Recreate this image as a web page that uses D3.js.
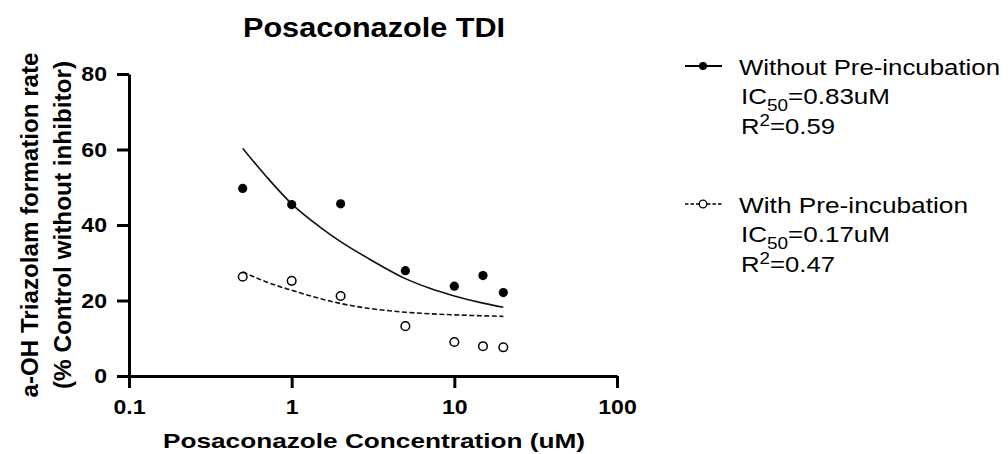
<html>
<head>
  <script src="https://d3js.org/d3.v7.min.js"></script>
  <style>
    body { margin: 0; background: #fff; }
    text { font-family: "Liberation Sans", Arial, Helvetica, sans-serif; fill: #000; }
  </style>
</head>
<body>
<svg id="chart" width="1008" height="454"></svg>
<script>

  // tick values
  const xTicks = [0.1, 1, 10, 100]
  const yTicks = [0, 20, 40, 60, 80]

  // measured points
  const conc = [0.5, 1, 2, 5, 10, 15, 20]
  const withoutPre = [49.7, 45.4, 45.6, 27.9, 23.8, 26.6, 22.1]
  const withPre = [26.3, 25.2, 21.2, 13.2, 9.0, 7.9, 7.6]

  // fitted curves
  const fitConc = [0.5, 0.7, 1, 1.5, 2, 3, 5, 7, 10, 15, 20]
  const fitWithout = [60.3, 52.8, 45.6, 39.4, 35.6, 31.0, 25.8, 23.3, 21.2, 19.3, 18.2]
  const fitWith = [27.6, 24.9, 22.7, 20.5, 19.2, 17.9, 16.9, 16.5, 16.2, 15.95, 15.8]

  const legendNames = ["Without Pre-incubation", "With Pre-incubation"]
  const legendIC50 = ["0.83", "0.17"]
  const legendR2 = ["0.59", "0.47"]

  const svg = d3.select("#chart")

  const x = d3.scaleLog().domain([0.1, 100]).range([129, 617])
  const y = d3.scaleLinear().domain([0, 80]).range([376, 74])

  // stretch text to the measured width
  function fit(sel, w) {
    sel.attr("textLength", w).attr("lengthAdjust", "spacingAndGlyphs")
  }
  function widen(sel, k) {
    sel.each(function() {
      const w = this.getComputedTextLength()
      d3.select(this).attr("textLength", w * k).attr("lengthAdjust", "spacingAndGlyphs")
    })
  }

  // axes
  const xAxis = svg.append("g")
    .attr("transform", "translate(0,376)")
    .call(d3.axisBottom(x).tickValues(xTicks).tickFormat(d => String(d))
      .tickSize(12).tickSizeOuter(0).tickPadding(11))
  const yAxis = svg.append("g")
    .attr("transform", "translate(129,0)")
    .call(d3.axisLeft(y).tickValues(yTicks).tickSize(12).tickSizeOuter(0).tickPadding(10))

  for (const ax of [xAxis, yAxis]) {
    ax.select(".domain").attr("stroke", "#000").attr("stroke-width", 3)
    ax.selectAll(".tick line").attr("stroke", "#000").attr("stroke-width", 3)
    ax.selectAll(".tick text")
      .style("font-family", "'Liberation Sans', Arial, sans-serif")
      .style("font-weight", "bold")
      .style("font-size", "21px")
      .attr("fill", "#000")
    widen(ax.selectAll(".tick text"), 1.1)
  }

  // fitted curves
  const line = d3.line()
    .x(d => x(d[0]))
    .y(d => y(d[1]))
    .curve(d3.curveMonotoneX)

  svg.append("path")
    .attr("d", line(d3.zip(fitConc, fitWithout)))
    .attr("fill", "none")
    .attr("stroke", "#111")
    .attr("stroke-width", 1.6)

  svg.append("path")
    .attr("d", line(d3.zip(fitConc, fitWith)))
    .attr("fill", "none")
    .attr("stroke", "#111")
    .attr("stroke-width", 1.6)
    .attr("stroke-dasharray", "5,2.5")

  // points
  svg.append("g").selectAll("circle")
    .data(d3.zip(conc, withoutPre))
    .join("circle")
    .attr("cx", d => x(d[0]))
    .attr("cy", d => y(d[1]))
    .attr("r", 4.6)
    .attr("fill", "#000")

  svg.append("g").selectAll("circle")
    .data(d3.zip(conc, withPre))
    .join("circle")
    .attr("cx", d => x(d[0]))
    .attr("cy", d => y(d[1]))
    .attr("r", 4.3)
    .attr("fill", "#fff")
    .attr("stroke", "#000")
    .attr("stroke-width", 1.5)

  // title and axis labels
  svg.append("text")
    .attr("x", 374).attr("y", 37)
    .attr("text-anchor", "middle")
    .style("font-weight", "bold").style("font-size", "27px")
    .text("Posaconazole TDI")
    .call(fit, 262)

  svg.append("text")
    .attr("x", 374).attr("y", 448)
    .attr("text-anchor", "middle")
    .style("font-weight", "bold").style("font-size", "21px")
    .text("Posaconazole Concentration (uM)")
    .call(fit, 422)

  svg.append("text")
    .attr("transform", "translate(38,225) rotate(-90)")
    .attr("text-anchor", "middle")
    .style("font-weight", "bold").style("font-size", "23px")
    .text("a-OH Triazolam formation rate")
    .call(fit, 345)

  svg.append("text")
    .attr("transform", "translate(71,225) rotate(-90)")
    .attr("text-anchor", "middle")
    .style("font-weight", "bold").style("font-size", "23px")
    .text("(% Control without inhibitor)")
    .call(fit, 328)

  // legend
  const legendTop = [75, 213]
  const nameWidth = [261, 229]
  legendNames.forEach((name, i) => {
    const g = svg.append("g")
    const ly = legendTop[i] - 9
    g.append("line")
      .attr("x1", 685).attr("x2", 722)
      .attr("y1", ly).attr("y2", ly)
      .attr("stroke", "#000")
      .attr("stroke-width", i == 0 ? 1.8 : 1.4)
      .attr("stroke-dasharray", i == 0 ? null : "3.5,2")
    g.append("circle")
      .attr("cx", 703).attr("cy", ly)
      .attr("r", i == 0 ? 4 : 3.8)
      .attr("fill", i == 0 ? "#000" : "#fff")
      .attr("stroke", "#000")
      .attr("stroke-width", i == 0 ? 0 : 1.3)

    g.append("text")
      .attr("x", 739).attr("y", legendTop[i])
      .style("font-size", "22px")
      .text(name)
      .call(fit, nameWidth[i])

    const ic = g.append("text")
      .attr("x", 741).attr("y", legendTop[i] + 29)
      .style("font-size", "22px")
    ic.append("tspan").text("IC")
    ic.append("tspan").attr("dy", 7).style("font-size", "16px").text("50")
    ic.append("tspan").attr("dy", -7).text("=" + legendIC50[i] + "uM")
    fit(ic, 149)

    const r2 = g.append("text")
      .attr("x", 741).attr("y", legendTop[i] + 59)
      .style("font-size", "22px")
    r2.append("tspan").text("R")
    r2.append("tspan").attr("dy", -8).style("font-size", "16px").text("2")
    r2.append("tspan").attr("dy", 8).text("=" + legendR2[i])
    fit(r2, 94)
  })

</script>
</body>
</html>
